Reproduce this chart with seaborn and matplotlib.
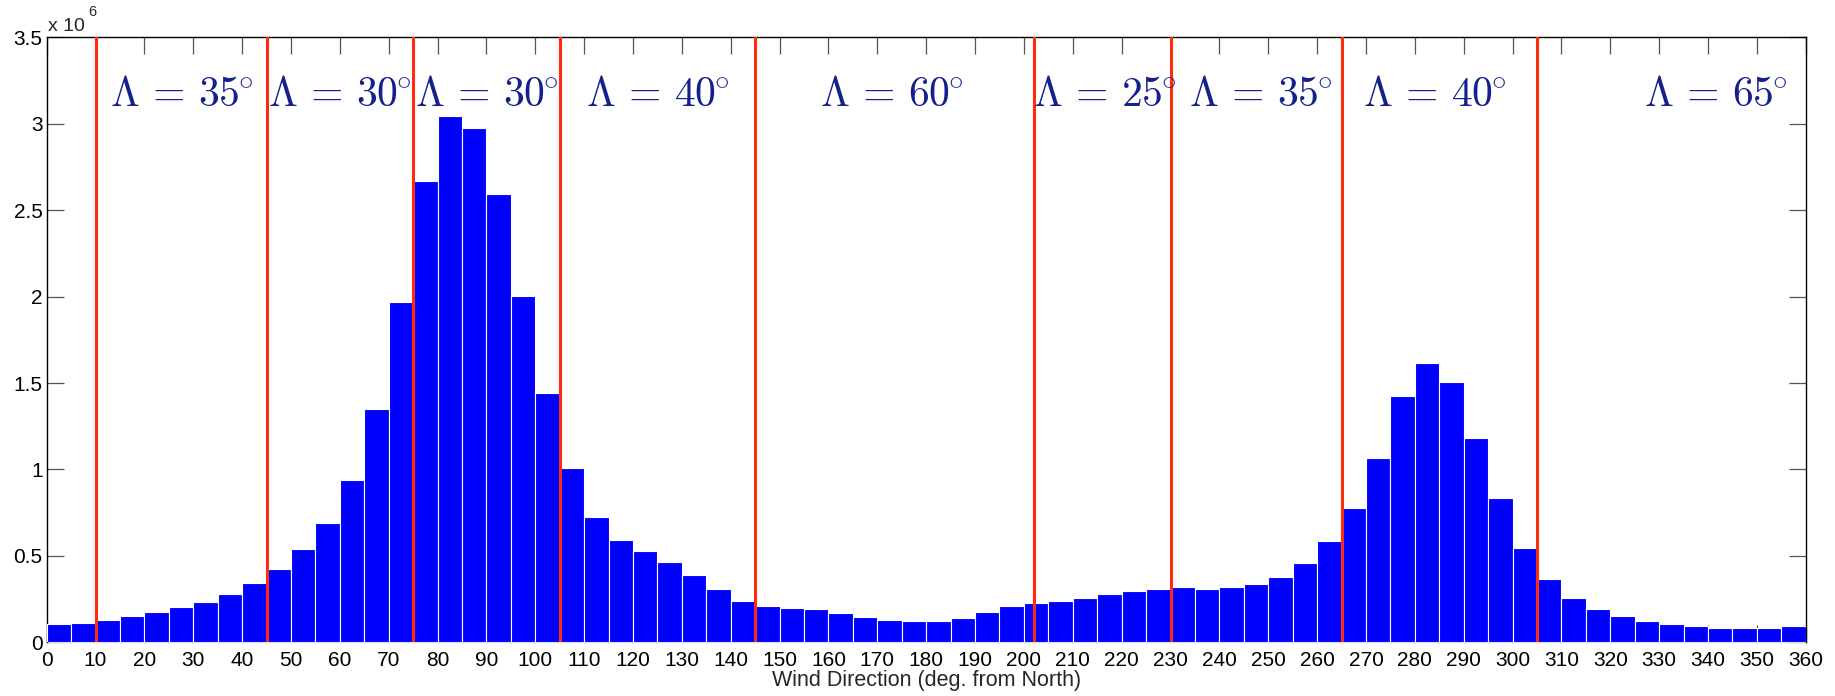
import numpy as np
import pandas as pd
import matplotlib
matplotlib.use("Agg")
import matplotlib.pyplot as plt
import seaborn as sns

# Wind-direction histogram: 5-degree bins from 0 to 360, counts in units of 10^6
bin_edges = list(range(0, 365, 5))
counts_1e6 = [
    0.103, 0.113, 0.128, 0.152, 0.177, 0.203, 0.234, 0.277, 0.342, 0.426,
    0.537, 0.693, 0.940, 1.351, 1.967, 2.671, 3.046, 2.976, 2.596, 2.006,
    1.441, 1.009, 0.727, 0.591, 0.526, 0.465, 0.390, 0.306, 0.241, 0.211,
    0.200, 0.193, 0.172, 0.149, 0.128, 0.121, 0.121, 0.141, 0.177, 0.211,
    0.226, 0.241, 0.257, 0.277, 0.298, 0.311, 0.318, 0.311, 0.318, 0.339,
    0.378, 0.457, 0.586, 0.778, 1.068, 1.425, 1.613, 1.505, 1.184, 0.832,
    0.547, 0.365, 0.257, 0.195, 0.152, 0.126, 0.105, 0.095, 0.085, 0.085,
    0.085, 0.092,
]

# Sector boundaries (deg) and the opening angle assigned to each sector
sector_bounds = [10, 45, 75, 105, 145, 202, 230, 265, 305]
sector_angles = [35, 30, 30, 40, 60, 25, 35, 40, 65]
label_x = [27.5, 60, 90, 125, 173, 216.5, 248.5, 284, 341.5]

x_ticks = list(range(0, 370, 10))
y_ticks = [0, 0.5, 1, 1.5, 2, 2.5, 3, 3.5]
y_tick_labels = ["0", "0.5", "1", "1.5", "2", "2.5", "3", "3.5"]

sns.set_style("white")
plt.rcParams["font.family"] = ["Liberation Sans", "DejaVu Sans"]
plt.rcParams["mathtext.fontset"] = "cm"

centers = [e + 2.5 for e in bin_edges[:-1]]
df = pd.DataFrame({"direction": centers, "count": counts_1e6})

fig = plt.figure(figsize=(18.35, 6.96), dpi=100)
ax = fig.add_axes([0.02545, 0.07716, 0.98403 - 0.02545, 0.94641 - 0.07716])

sns.histplot(data=df, x="direction", weights="count", bins=bin_edges,
             color="#0000ff", alpha=1.0, edgecolor="white", linewidth=0.8,
             ax=ax, zorder=3)

for xb in sector_bounds:
    ax.axvline(xb, color="#ff2a10", lw=2.2, zorder=4)

for xc, ang in zip(label_x, sector_angles):
    ax.text(xc, 3.103, r"$\Lambda\,=\,%d^{\!\!\circ}$" % ang, ha="center", va="baseline",
            fontsize=30, color="#14208c", zorder=5)

ax.set_xlim(0, 360)
ax.set_ylim(0, 3.5)
ax.set_xticks(x_ticks)
ax.set_xticklabels([str(t) for t in x_ticks])
ax.set_yticks(y_ticks)
ax.set_yticklabels(y_tick_labels)
ax.tick_params(axis="both", direction="in", length=12.2, width=0.9, color="#555555",
               labelsize=15, labelcolor="black", top=True, right=True,
               bottom=True, left=True)
ax.tick_params(axis="x", pad=6)
ax.tick_params(axis="y", pad=3)

for side in ["left", "top", "right"]:
    ax.spines[side].set_color("black")
    ax.spines[side].set_linewidth(1.0)
ax.spines["bottom"].set_color("#dddddd")
ax.spines["bottom"].set_linewidth(1.0)
ax.spines["bottom"].set_zorder(1)

ax.set_xlabel("Wind Direction (deg. from North)", fontsize=15.5, labelpad=0)
ax.set_ylabel("")

# Axis multiplier at top left
ax.text(0.0006, 1.004, "x 10", transform=ax.transAxes, ha="left", va="bottom",
        fontsize=14)
ax.text(0.0235, 1.030, "6", transform=ax.transAxes, ha="left", va="bottom",
        fontsize=10.5)

fig.savefig("out.png", dpi=100, facecolor="white")
